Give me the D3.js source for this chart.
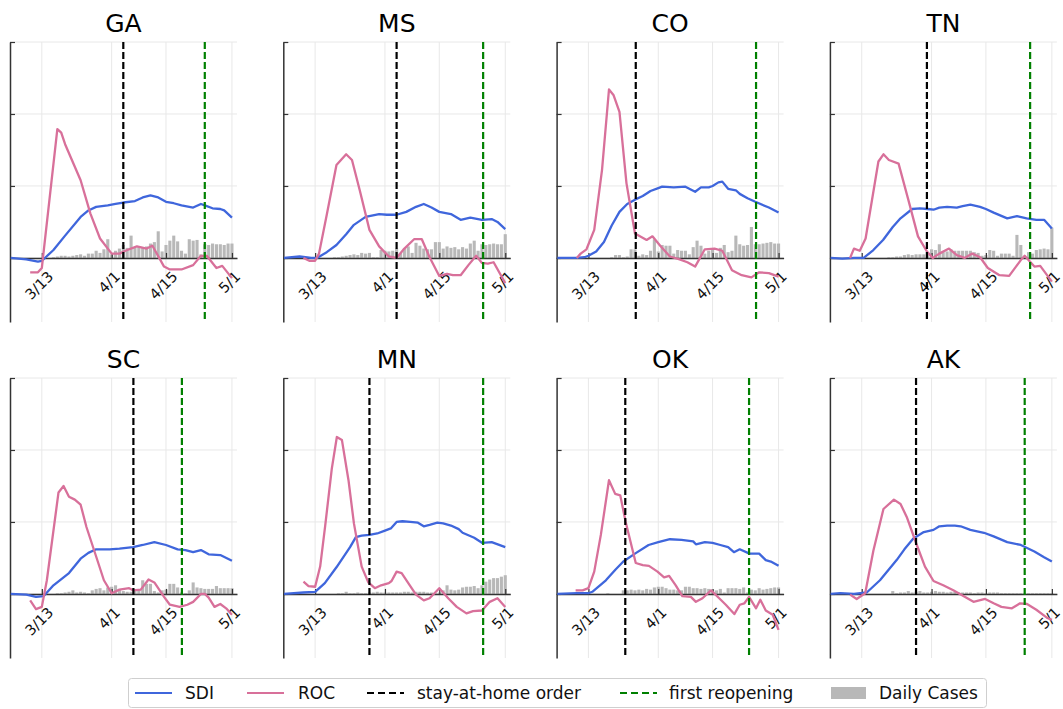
<!DOCTYPE html>
<html lang="en">
<head>
<meta charset="UTF-8">
<script src="https://d3js.org/d3.v7.min.js"></script>
<style>
  body { margin: 0; background: #fff; font-family: "DejaVu Sans", sans-serif; }
  svg { display: block; }
</style>
</head>
<body>
<svg id="chart" width="1063" height="709"></svg>
<script>
// days are counted from Feb 29 2020 (3/1 = 1, 4/1 = 32, 5/1 = 62)
const states = ["GA", "MS", "CO", "TN", "SC", "MN", "OK", "AK"];
const stayHome = [34, 34, 25.2, 29.8, 36.6, 27, 22.5, 27];
const reopen = [55, 56.3, 56.2, 56.4, 49.1, 56.3, 54.4, 55];
const tickDays = [13, 31, 45, 62];
const tickLabels = ["3/13", "4/1", "4/15", "5/1"];
const caseFirstDay = 16;

const GA_SDI = [[5,0],[9,-0.02],[12,-0.05],[13,-0.04],[14,0.01],[16,0.11],[19,0.31],[23,0.57],[25,0.66],[27,0.71],[30,0.73],[32,0.75],[34,0.77],[37,0.79],[39,0.84],[41,0.87],[43,0.84],[45,0.78],[47,0.76],[49,0.73],[52,0.7],[54,0.75],[55,0.73],[57,0.69],[59,0.68],[60,0.66],[62,0.56]];
const GA_ROC = [[10,-0.2],[12,-0.2],[13,-0.14],[17,1.79],[18,1.74],[19,1.58],[23,1.08],[25.5,0.62],[28,0.27],[31,0.06],[33,0.06],[35,0.11],[37.5,0.16],[40,0.13],[41.5,0.17],[44.5,-0.12],[46,-0.16],[49,-0.16],[52,-0.1],[54,0.03],[55.5,0.03],[58,-0.14],[59.5,-0.11],[62,-0.28]];
const GA_CASES = [0.01,0.02,0.03,0.03,0.02,0.03,0.04,0.05,0.03,0.06,0.06,0.1,0.07,0.12,0.26,0.05,0.1,0.13,0.18,0.14,0.31,0.14,0.15,0.15,0.16,0.2,0.22,0.37,0.09,0.18,0.24,0.31,0.23,0.1,0.06,0.26,0.24,0.25,0.05,0.19,0.18,0.2,0.19,0.19,0.18,0.2,0.2];

const MS_SDI = [[5,0],[9,0.02],[12,0],[13.5,0],[16,0.08],[18.5,0.18],[21,0.33],[23,0.46],[26,0.57],[29.5,0.61],[31.5,0.6],[34,0.6],[36.5,0.64],[39,0.71],[41,0.75],[43,0.7],[45,0.64],[48,0.61],[50.5,0.53],[53,0.56],[56,0.53],[58.5,0.54],[60,0.5],[62,0.4]];
const MS_ROC = [[10,0],[11.5,-0.04],[13,-0.04],[14,0.06],[16,0.6],[18.5,1.29],[21,1.44],[22.5,1.36],[24.5,0.94],[27,0.39],[29.5,0.16],[32,0.02],[34,0],[36,0.13],[38.5,0.26],[40.5,0.26],[42.5,0.01],[45,-0.25],[47,-0.22],[48.5,-0.24],[50.5,-0.24],[52.5,-0.1],[54.5,0.03],[56,-0.07],[57.5,-0.08],[59,-0.06],[62,-0.35]];
const MS_CASES = [0,0,0.01,0.01,0.02,0.03,0.04,0.05,0.04,0.07,0.06,0.07,0.01,0.01,0.11,0.1,0.09,0.1,0.13,0.07,0.13,0.16,0.07,0.21,0.17,0.13,0.12,0.12,0.22,0.22,0.13,0.16,0.14,0.15,0.12,0.15,0.13,0.2,0.24,0.1,0.19,0.18,0.19,0.2,0.19,0.19,0.33];

const CO_SDI = [[5,0],[10,0],[12,0.01],[13,0.03],[15,0.09],[17,0.22],[19,0.45],[21,0.64],[23,0.75],[25,0.81],[27,0.86],[29,0.93],[31,0.97],[32,0.99],[35,0.98],[38,0.99],[40.5,0.92],[42,0.98],[44,0.98],[45,1.0],[46.5,1.05],[47.5,1.06],[49,0.96],[51,0.94],[52,0.89],[54,0.83],[56,0.78],[59.5,0.7],[62,0.63]];
const CO_ROC = [[10,0],[11,0.06],[12.5,0.12],[14.5,0.39],[16.5,1.22],[18.3,2.34],[19.5,2.26],[21,2.03],[22.8,1.04],[25,0.34],[28,0.25],[29.5,0.3],[31.5,0.17],[34,0.02],[36.5,-0.02],[38.5,-0.06],[40.5,-0.12],[43,0.12],[45.5,0.13],[47.5,0.1],[50,-0.17],[52.5,-0.24],[55,-0.27],[57,-0.2],[59.5,-0.21],[62,-0.26]];
const CO_CASES = [0,0,0,0.01,0.04,0.04,0.01,0.02,0.12,0.12,0.03,0.05,0.04,0.1,0.26,0.09,0.18,0.17,0.17,0.06,0.11,0.1,0.1,0.05,0.15,0.24,0.17,0.06,0.1,0.12,0.07,0.14,0.18,0.08,0.1,0.31,0.19,0.17,0.18,0.43,0.19,0.19,0.2,0.21,0.22,0.2,0.2];

const TN_SDI = [[5,0],[8,-0.01],[11,0],[13.5,0],[16,0.11],[18.5,0.25],[21,0.43],[23,0.55],[26,0.68],[28,0.69],[30,0.68],[31.5,0.67],[33,0.7],[35,0.71],[37.5,0.7],[39,0.72],[41,0.74],[43.5,0.71],[45,0.68],[47,0.63],[50.5,0.55],[53,0.58],[55.5,0.55],[58,0.53],[60,0.53],[62,0.41]];
const TN_ROC = [[10,0],[11,0.13],[12.5,0.1],[14,0.27],[17.3,1.34],[18.6,1.44],[20,1.36],[22.5,1.31],[25,0.81],[27.5,0.3],[29.8,0.09],[31.3,0],[33,0.06],[35.5,0.13],[37.5,0.04],[39.5,0],[41.5,0.06],[43.5,0.01],[45.5,-0.14],[48.5,-0.24],[51,-0.25],[54,-0.03],[55,0.03],[57.5,-0.12],[59,-0.11],[62,-0.33]];
const TN_CASES = [0,0,0,0,0.01,0.01,0.02,0.02,0.04,0.05,0.04,0.05,0.05,0.05,0.06,0.12,0.11,0.19,0.08,0.09,0.12,0.1,0.1,0.1,0.1,0.1,0.08,0.07,0.03,0.04,0.11,0.1,0.03,0.06,0.06,0.06,0.03,0.32,0.18,0.02,0.08,0.06,0.11,0.12,0.13,0.12,0.42];

const SC_SDI = [[5,0],[9,-0.01],[11.5,-0.04],[13.5,-0.03],[16,0.12],[20,0.29],[23,0.49],[25,0.57],[27,0.62],[30.5,0.62],[33,0.63],[36.5,0.65],[39,0.68],[42,0.72],[45,0.68],[48,0.62],[50,0.61],[52,0.58],[54,0.61],[56,0.55],[59,0.54],[62,0.46]];
const SC_ROC = [[10,-0.09],[11.5,-0.21],[13,-0.18],[14.3,0.19],[17.3,1.41],[18.6,1.5],[20,1.35],[21.5,1.31],[23,1.24],[24.5,0.93],[27,0.52],[29,0.19],[31,0.01],[33,0.06],[35.5,0.08],[36.5,0.05],[38.5,0.06],[40.5,0.2],[42,0.16],[44.5,-0.04],[46,-0.15],[48.5,-0.18],[50.5,-0.15],[52,-0.11],[54,0],[55,0],[56,-0.05],[57.5,-0.18],[59,-0.14],[60.5,-0.2],[62,-0.29]];
const SC_CASES = [0,0.01,0.01,0.02,0.03,0.05,0.02,0.03,0.02,0.01,0.05,0.07,0.08,0.05,0.09,0.1,0.12,0.06,0.04,0.03,0.03,0.04,0.06,0.19,0.14,0.14,0.04,0.02,0.05,0.06,0.14,0.14,0.09,0.02,0.01,0.05,0.16,0.09,0.08,0.07,0.07,0.07,0.11,0.08,0.08,0.08,0.08];

const MN_SDI = [[5,0],[10,0.02],[13,0.03],[15.5,0.15],[18.5,0.37],[22,0.65],[23.5,0.79],[25,0.81],[27,0.82],[29,0.84],[31,0.88],[32.5,0.91],[34,1.0],[35.5,1.01],[37.5,1.0],[39.5,0.99],[41,0.94],[42.5,0.96],[44.5,0.99],[46,0.98],[48,0.95],[50,0.9],[51,0.85],[54,0.78],[56,0.71],[58.5,0.72],[62,0.65]];
const MN_ROC = [[10,0.17],[11.3,0.11],[13,0.1],[14.3,0.38],[15.6,0.95],[17.3,1.74],[18.6,2.18],[19.9,2.14],[21.6,1.58],[23,0.98],[25,0.38],[26.7,0.16],[28.4,0.08],[30,0.12],[32,0.15],[32.7,0.18],[34,0.31],[35.3,0.29],[37.4,0.12],[39,-0.01],[41,-0.09],[42.5,-0.06],[45,0.08],[47.3,-0.06],[49.5,-0.18],[52,-0.27],[53.7,-0.24],[56,-0.23],[58,-0.11],[60,-0.06],[62,-0.18]];
const MN_CASES = [0,0,0,0.01,0.01,0.03,0.01,0.01,0.02,0.01,0.01,0.02,0.02,0.03,0.02,0.02,0.02,0.02,0.02,0.02,0.03,0.03,0.02,0.03,0.03,0.03,0.02,0.02,0.01,0.02,0.05,0.12,0.06,0.05,0.06,0.09,0.1,0.1,0.11,0.08,0.12,0.17,0.2,0.22,0.22,0.24,0.26];

const OK_SDI = [[5,0],[10,0.01],[13,0.01],[14,0.03],[17.5,0.19],[20,0.34],[22,0.45],[25,0.56],[28.5,0.68],[31,0.72],[34,0.76],[37,0.75],[40,0.73],[40.7,0.69],[43,0.72],[45,0.71],[47,0.68],[49,0.65],[50.5,0.58],[52,0.62],[54.5,0.56],[57,0.56],[58.7,0.47],[60,0.45],[62,0.39]];
const OK_ROC = [[9.7,0.05],[11.5,0.05],[13,0.08],[14.5,0.31],[16.2,0.82],[18.3,1.58],[19.9,1.39],[21.2,1.37],[22.6,1],[25.2,0.43],[27,0.4],[28.6,0.39],[30.8,0.31],[32.5,0.23],[33.8,0.25],[35.5,0.12],[37.2,-0.03],[39.4,-0.04],[40.7,-0.11],[42.4,-0.06],[44.6,0.05],[46.7,-0.06],[48.4,-0.15],[50.6,-0.28],[52,-0.15],[53.2,-0.13],[54.4,-0.04],[56.2,-0.2],[57.3,-0.08],[58.7,-0.23],[60.5,-0.29],[62,-0.5]];
const OK_CASES = [0,0,0.01,0,0,0,0.05,0.05,0.06,0.05,0.06,0.05,0.07,0.06,0.09,0.1,0.1,0.08,0.06,0.06,0.05,0.05,0.1,0.1,0.08,0.08,0.07,0.08,0.07,0.06,0.05,0.07,0.02,0.08,0.08,0.08,0.07,0.09,0.02,0.06,0.05,0.08,0.06,0.07,0.08,0.09,0.09];

const AK_SDI = [[5,0],[7.5,0.01],[11,0],[14.3,0.02],[17.7,0.19],[22,0.47],[24,0.62],[26.3,0.77],[29,0.86],[31.5,0.89],[33,0.94],[35,0.95],[37,0.95],[38.5,0.94],[41,0.89],[44.5,0.85],[47,0.8],[50.5,0.72],[54,0.68],[57.5,0.59],[60,0.51],[62,0.45]];
const AK_ROC = [[10,-0.01],[11.7,-0.07],[13.9,0.01],[16,0.6],[18.6,1.18],[21.3,1.31],[23,1.25],[24.6,1.07],[27.2,0.68],[29.3,0.38],[31.5,0.18],[34,0.12],[36.6,0.05],[39.2,-0.03],[41.8,-0.11],[44.8,-0.07],[47,-0.13],[49,-0.18],[51.7,-0.2],[53.8,-0.13],[55.6,-0.14],[58,-0.22],[60.7,-0.33],[62,-0.36]];
const AK_CASES = [0,0,0,0,0,0.04,0.01,0.02,0.02,0.04,0.02,0.03,0.04,0.02,0.02,0.03,0.04,0.03,0.03,0.02,0.03,0.03,0.02,0.02,0.02,0.02,0.01,0.02,0.02,0.01,0.02,0.02,0.02,0.01,0.01,0.01,0.01,0.01,0.01,0.01,0.01,0.01,0.01,0.01,0.01,0.01,0.01];

const sdiSeries = [GA_SDI, MS_SDI, CO_SDI, TN_SDI, SC_SDI, MN_SDI, OK_SDI, AK_SDI];
const rocSeries = [GA_ROC, MS_ROC, CO_ROC, TN_ROC, SC_ROC, MN_ROC, OK_ROC, AK_ROC];
const caseSeries = [GA_CASES, MS_CASES, CO_CASES, TN_CASES, SC_CASES, MN_CASES, OK_CASES, AK_CASES];

const legendLabels = ["SDI", "ROC", "stay-at-home order", "first reopening", "Daily Cases"];

const C_SDI = "#3f66dc", C_ROC = "#d8709a", C_BAR = "#b8b8b8", C_OPEN = "#008000";

const panelW = 227, panelH = 280;
const svg = d3.select("#chart");

const x = d3.scaleLinear().domain([4.8, 63.3]).range([0, panelW]);
const y = d3.scaleLinear().domain([-0.89, 3]).range([panelH, 0]);
const line = d3.line().x(d => x(d[0])).y(d => y(d[1]));
const barW = x(0.8) - x(0);

states.forEach((name, i) => {
  const col = i % 4, row = Math.floor(i / 4);
  const g = svg.append("g")
    .attr("transform", `translate(${10 + col * 273.3},${42 + row * 336})`);

  // grid
  g.selectAll(".hgrid").data([0, 1, 2, 3]).join("line")
    .attr("x1", 0).attr("x2", panelW)
    .attr("y1", d => y(d)).attr("y2", d => y(d))
    .attr("stroke", "#e8e8e8");
  g.selectAll(".vgrid").data(tickDays).join("line")
    .attr("x1", d => x(d)).attr("x2", d => x(d))
    .attr("y1", 0).attr("y2", panelH)
    .attr("stroke", "#e8e8e8");

  // daily cases
  g.selectAll("rect.bar").data(caseSeries[i]).join("rect")
    .attr("class", "bar")
    .attr("x", (d, k) => x(caseFirstDay + k) - barW / 2)
    .attr("width", barW)
    .attr("y", d => y(d))
    .attr("height", d => y(0) - y(d))
    .attr("fill", C_BAR);

  // axes
  const xAxis = g.append("g")
    .attr("transform", `translate(0,${y(0)})`)
    .call(d3.axisTop(x).tickValues(tickDays).tickSize(5).tickSizeOuter(0).tickFormat(""));
  xAxis.select(".domain").attr("stroke", "#333").attr("stroke-width", 1.5);
  xAxis.selectAll(".tick line").attr("stroke", "#333").attr("stroke-width", 1.2);

  const yAxis = g.append("g")
    .call(d3.axisRight(y).tickValues([0, 1, 2, 3]).tickSize(5).tickSizeOuter(0).tickFormat(""));
  yAxis.select(".domain").attr("stroke", "#333").attr("stroke-width", 1.5);
  yAxis.selectAll(".tick line").attr("stroke", "#333").attr("stroke-width", 1.2);

  // tick labels, rotated
  g.selectAll(".tlab").data(tickDays).join("text")
    .attr("class", "tlab")
    .text((d, k) => tickLabels[k])
    .attr("font-size", 14.5)
    .attr("fill", "#111")
    .attr("text-anchor", "middle")
    .attr("dominant-baseline", "central")
    .each(function (d) {
      const L = this.getComputedTextLength();
      const cy = y(0) + 11 + (L + 14) * 0.7071 / 2;
      d3.select(this).attr("transform", `translate(${x(d) - 2.5},${cy}) rotate(-45)`);
    });

  // series
  g.append("path").datum(sdiSeries[i]).attr("d", line)
    .attr("fill", "none").attr("stroke", C_SDI).attr("stroke-width", 2.3)
    .attr("stroke-linejoin", "round");
  g.append("path").datum(rocSeries[i]).attr("d", line)
    .attr("fill", "none").attr("stroke", C_ROC).attr("stroke-width", 2.3)
    .attr("stroke-linejoin", "round");

  // policy dates
  g.append("line")
    .attr("x1", x(stayHome[i])).attr("x2", x(stayHome[i]))
    .attr("y1", 0).attr("y2", panelH)
    .attr("stroke", "#000").attr("stroke-width", 2.2).attr("stroke-dasharray", "7,3");
  g.append("line")
    .attr("x1", x(reopen[i])).attr("x2", x(reopen[i]))
    .attr("y1", 0).attr("y2", panelH)
    .attr("stroke", C_OPEN).attr("stroke-width", 2.2).attr("stroke-dasharray", "7,3");

  g.append("text")
    .attr("x", panelW / 2).attr("y", -10)
    .attr("text-anchor", "middle")
    .attr("font-size", 25)
    .attr("fill", "#000")
    .text(name);
});

// legend
const lg = svg.append("g");
lg.append("rect")
  .attr("x", 128.5).attr("y", 678.5).attr("width", 858).attr("height", 29)
  .attr("rx", 3).attr("fill", "#fff").attr("stroke", "#cfcfcf");
const handleX = [135, 247, 367, 620, 831];
const textX = [185, 298, 417, 669, 879];
const ly = 693;
legendLabels.forEach((lab, k) => {
  if (k < 4) {
    lg.append("line")
      .attr("x1", handleX[k]).attr("x2", handleX[k] + 37)
      .attr("y1", ly).attr("y2", ly)
      .attr("stroke", [C_SDI, C_ROC, "#000", C_OPEN][k])
      .attr("stroke-width", 2.2)
      .attr("stroke-dasharray", k >= 2 ? "7,4" : null);
  } else {
    lg.append("rect")
      .attr("x", handleX[k]).attr("y", ly - 6)
      .attr("width", 35).attr("height", 12)
      .attr("fill", C_BAR);
  }
  lg.append("text")
    .attr("x", textX[k]).attr("y", ly)
    .attr("dominant-baseline", "central")
    .attr("font-size", 17)
    .attr("fill", "#111")
    .text(lab);
});
</script>
</body>
</html>
